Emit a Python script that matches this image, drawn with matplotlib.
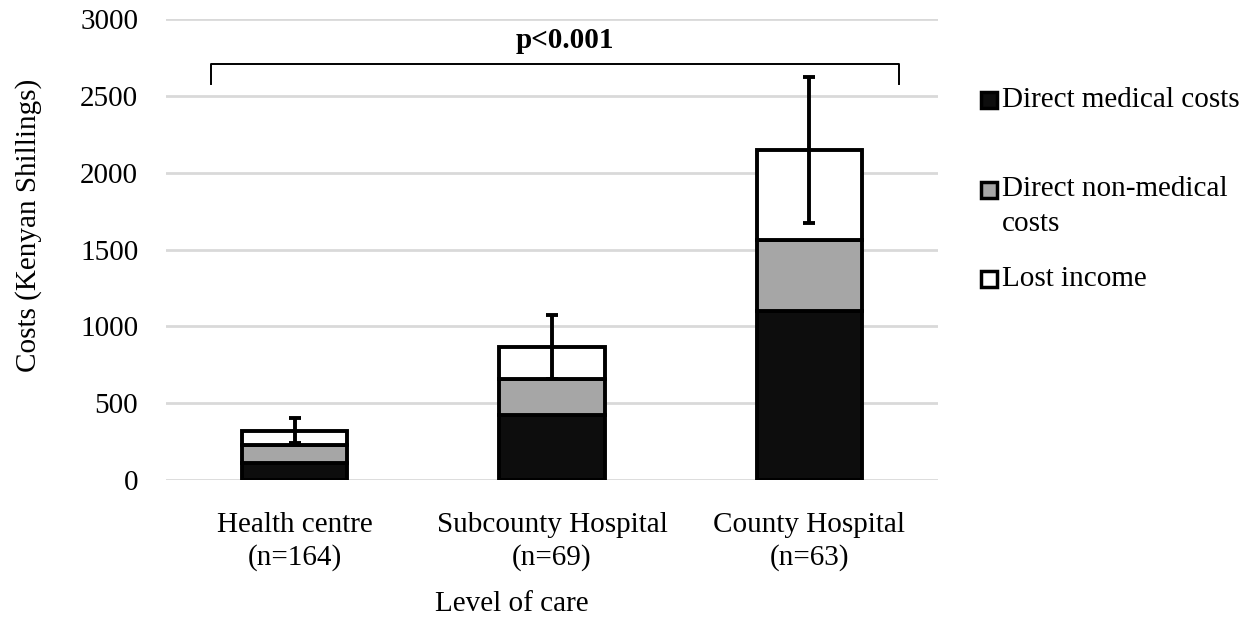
import matplotlib
matplotlib.use("Agg")
import matplotlib.pyplot as plt
from matplotlib.patches import Rectangle
import numpy as np

plt.rcParams['font.family'] = ['Liberation Serif', 'DejaVu Serif']

# Data (Kenyan Shillings)
levels = ["Health centre\n(n=164)", "Subcounty Hospital\n(n=69)", "County Hospital\n(n=63)"]
direct_medical = [108, 424, 1102]
direct_non_medical = [122, 235, 463]
lost_income = [90, 209, 581]
total_error = [82, 208, 476]
series_names = ["Direct medical costs", "Direct non-medical\ncosts", "Lost income"]
series_colors = ["#0d0d0d", "#a6a6a6", "#ffffff"]
y_ticks = [0, 500, 1000, 1500, 2000, 2500, 3000]
p_text = "p<0.001"

FS = 21
W, H = 1252, 621
fig = plt.figure(figsize=(W / 100, H / 100), dpi=100)
ax = fig.add_axes([166 / W, 1 - 480 / H, (938 - 166) / W, (480 - 19) / H])

x = np.arange(len(levels))
width = 0.41
bottom = np.zeros(len(levels))
for vals, col in zip([direct_medical, direct_non_medical, lost_income], series_colors):
    ax.bar(x, vals, width, bottom=bottom, color=col, edgecolor="black",
           linewidth=2.8, zorder=3)
    bottom = bottom + np.array(vals)

ax.errorbar(x, bottom, yerr=total_error, fmt="none", ecolor="black",
            elinewidth=2.8, capsize=4.5, capthick=2.8, zorder=4)

ax.set_xlim(-0.5, 2.5)
ax.set_ylim(0, 3000)
ax.set_yticks(y_ticks)
ax.set_yticklabels([str(t) for t in y_ticks], fontsize=FS)
ax.set_xticks(x)
ax.set_xticklabels(levels, fontsize=FS, linespacing=1.3)
ax.tick_params(axis="both", length=0)
ax.tick_params(axis="y", pad=20)
ax.tick_params(axis="x", pad=23)
ax.yaxis.grid(True, color="#d9d9d9", linewidth=2)
ax.set_axisbelow(True)
for s in ax.spines.values():
    s.set_visible(False)

# Significance bracket across all three levels
br_y = 2705
ax.plot([-0.325, -0.325, 2.35, 2.35], [br_y - 125, br_y, br_y, br_y - 125],
        color="black", linewidth=1.4, clip_on=False, zorder=5)
ax.text(1.05, 2860, p_text, ha="center", va="center", fontsize=FS,
        fontweight="bold")

# Axis titles
fig.text(512 / W, 1 - 604 / H, "Level of care", ha="center", va="center",
         fontsize=FS)
fig.text(29 / W, 1 - 225 / H, "Costs (Kenyan Shillings)", ha="center",
         va="center", rotation=90, fontsize=FS)

# Legend
legend_rows = [100, 190, 279]
sq = 16
for name, col, yc in zip(series_names, series_colors, legend_rows):
    fig.patches.append(Rectangle((981 / W, 1 - (yc + sq / 2) / H), sq / W, sq / H,
                                 transform=fig.transFigure, facecolor=col,
                                 edgecolor="black", linewidth=2.5))
    if "\n" in name:
        fig.text(1002 / W, 1 - (yc - 14) / H, name, ha="left", va="top",
                 fontsize=FS, linespacing=1.45)
    else:
        fig.text(1002 / W, 1 - yc / H, name, ha="left", va="center", fontsize=FS)

fig.savefig("out.png", dpi=100, facecolor="white")
